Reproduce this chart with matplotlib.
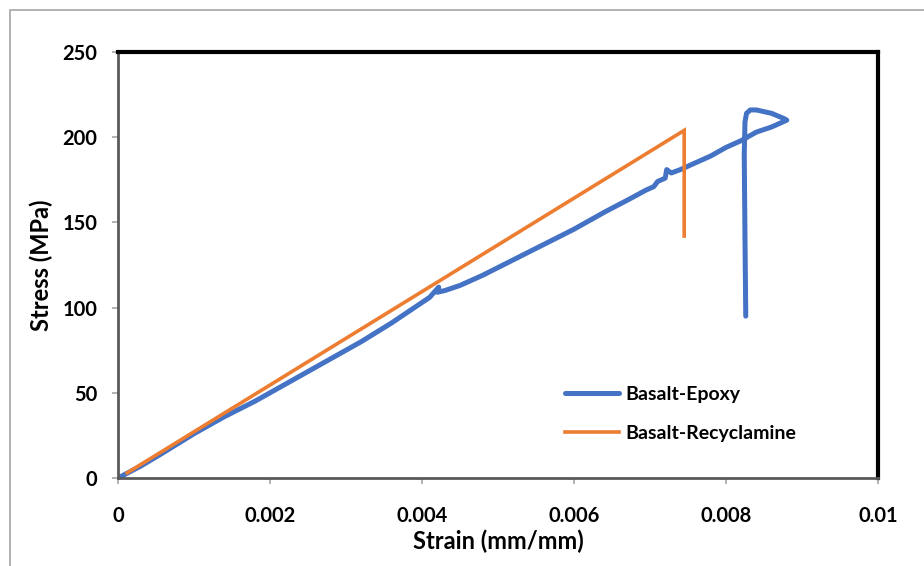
import matplotlib.pyplot as plt
from matplotlib.patches import Rectangle

# Stress-strain data
epoxy_strain = [0, 0.0003, 0.0006, 0.001, 0.0014, 0.0018, 0.002, 0.0024, 0.0028, 0.0032,
                0.0036, 0.004, 0.0041, 0.00418, 0.00422, 0.0042, 0.0043, 0.0045, 0.0048,
                0.0052, 0.0056, 0.006, 0.0064, 0.0067, 0.00695, 0.00705, 0.0071, 0.0072,
                0.00722, 0.00728, 0.0074, 0.0076, 0.0078, 0.008, 0.0082, 0.0084, 0.0086,
                0.0088, 0.00876, 0.0086, 0.0085, 0.0084, 0.00832, 0.00827, 0.00825,
                0.00824, 0.00825, 0.00826]
epoxy_stress = [0, 7, 15, 26, 36, 45, 50, 60, 70, 80,
                91, 103, 106, 110, 112, 109, 110, 113, 119,
                128, 137, 146, 156, 163, 169, 171, 174, 176,
                181, 179, 181, 185, 189, 194, 198, 203, 206,
                210, 211, 214, 215, 216, 216, 214, 209,
                190, 140, 95]

recycl_strain = [0.00012, 0.00745, 0.00745]
recycl_stress = [3, 204, 142]

x_ticks = [0, 0.002, 0.004, 0.006, 0.008, 0.01]
x_tick_labels = ["0", "0.002", "0.004", "0.006", "0.008", "0.01"]
y_ticks = [0, 50, 100, 150, 200, 250]

plt.rcParams['font.family'] = ['Lato', 'DejaVu Sans']

fig = plt.figure(figsize=(9.24, 5.66), dpi=100)
ax = fig.add_axes([118 / 924, 1 - 478 / 566, 760 / 924, 426 / 566])

# outer chart frame
fig.patches.append(Rectangle((10 / 924, -0.1), 1.2, 1 - 10 / 566 + 0.1,
                             transform=fig.transFigure, fill=False,
                             edgecolor="#a6a6a6", linewidth=1.2))

ax.plot(epoxy_strain, epoxy_stress, color="#4472c4", linewidth=3.6,
        solid_joinstyle="round", solid_capstyle="round", label="Basalt-Epoxy")
ax.plot(recycl_strain, recycl_stress, color="#ed7d31", linewidth=2.6,
        solid_joinstyle="miter", label="Basalt-Recyclamine")

ax.set_xlim(0, 0.01)
ax.set_ylim(0, 250)
ax.set_xticks(x_ticks)
ax.set_xticklabels(x_tick_labels)
ax.set_yticks(y_ticks)

for side in ["top", "right"]:
    ax.spines[side].set_color("black")
    ax.spines[side].set_linewidth(3)
for side in ["left", "bottom"]:
    ax.spines[side].set_color("#595959")
    ax.spines[side].set_linewidth(2)

ax.tick_params(axis="both", direction="out", length=4, width=1.2, color="#a6a6a6",
               labelsize=14.5)
ax.tick_params(axis="x", pad=16)
ax.tick_params(axis="y", pad=11)
for lbl in ax.get_xticklabels() + ax.get_yticklabels():
    lbl.set_fontweight("bold")

ax.set_xlabel("Strain (mm/mm)", fontsize=17, fontweight="bold", labelpad=3)
ax.set_ylabel("Stress (MPa)", fontsize=17, fontweight="bold", labelpad=7)

leg = ax.legend(loc="upper left", bbox_to_anchor=(0.588, 0.216), frameon=False,
                fontsize=14, handlelength=2.8, labelspacing=1.12, handletextpad=0.3,
                borderpad=0, borderaxespad=0)
for t in leg.get_texts():
    t.set_fontweight("bold")

fig.savefig("out.png", dpi=100)
